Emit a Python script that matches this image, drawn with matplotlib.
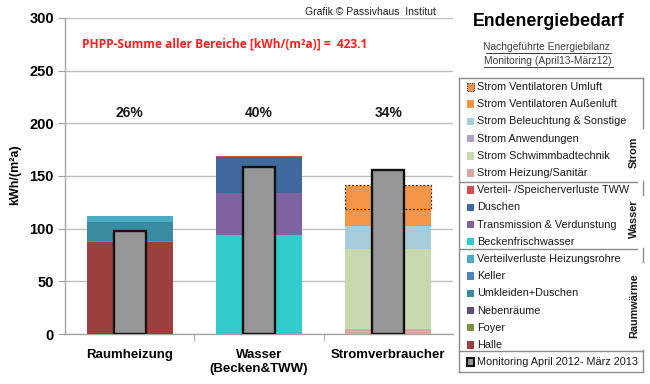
import matplotlib
matplotlib.use("Agg")
import matplotlib.pyplot as plt
from matplotlib.patches import Rectangle
from matplotlib.lines import Line2D
import numpy as np

plt.rcParams['font.family'] = ['Liberation Sans', 'DejaVu Sans']

# ---------------- data ----------------
categories = ["Raumheizung", "Wasser\n(Becken&TWW)", "Stromverbraucher"]

# stacked series, bottom to top (values per category)
halle            = [87.5, 0.0, 0.0]
foyer            = [0.8, 0.0, 0.0]
nebenraeume      = [0.3, 0.0, 0.0]
umkleiden        = [17.8, 0.0, 0.0]
keller           = [0.2, 0.0, 0.0]
verteil_heizung  = [5.2, 0.0, 0.0]
beckenfrisch     = [0.0, 94.3, 0.0]
transmission     = [0.0, 39.6, 0.0]
duschen          = [0.0, 34.1, 0.0]
verteil_tww      = [0.0, 1.3, 0.0]
strom_heizung    = [0.0, 0.0, 4.7]
strom_schwimm    = [0.0, 0.0, 76.0]
strom_anwend     = [0.0, 0.0, 0.0]
strom_beleucht   = [0.0, 0.0, 21.6]
strom_aussen     = [0.0, 0.0, 16.7]
strom_umluft     = [0.0, 0.0, 22.5]

monitoring = [97.5, 158.3, 155.5]
percent_labels = ["26%", "40%", "34%"]
phpp_total = "423.1"

y_ticks = [0, 50, 100, 150, 200, 250, 300]

series = [
    ("Halle", halle, "#9B403D", None),
    ("Foyer", foyer, "#77933C", None),
    ("Nebenräume", nebenraeume, "#604A7B", None),
    ("Umkleiden+Duschen", umkleiden, "#3A8BA2", None),
    ("Keller", keller, "#4F81BD", None),
    ("Verteilverluste Heizungsrohre", verteil_heizung, "#4BACC6", None),
    ("Beckenfrischwasser", beckenfrisch, "#33CCCC", None),
    ("Transmission & Verdunstung", transmission, "#8064A2", None),
    ("Duschen", duschen, "#3F699D", None),
    ("Verteil- /Speicherverluste TWW", verteil_tww, "#D05050", None),
    ("Strom Heizung/Sanitär", strom_heizung, "#DBA5A4", None),
    ("Strom Schwimmbadtechnik", strom_schwimm, "#C8D8AF", None),
    ("Strom Anwendungen", strom_anwend, "#B3A2C7", None),
    ("Strom Beleuchtung & Sonstige", strom_beleucht, "#A7CCDA", None),
    ("Strom Ventilatoren Außenluft", strom_aussen, "#F79646", None),
    ("Strom Ventilatoren Umluft", strom_umluft, "#F79646", "dotted"),
]

W, H = 650, 384
fig = plt.figure(figsize=(W / 100, H / 100), dpi=100)

def fx(px):
    return px / W

def fy(py):
    return 1 - py / H

ax = fig.add_axes([fx(65), fy(334), (453 - 65) / W, (334 - 18) / H])

x = np.arange(len(categories))
bottom = np.zeros(len(categories))
for name, vals, col, ls in series:
    vals = np.array(vals, dtype=float)
    m = vals > 0
    if m.any():
        if ls:
            ax.bar(x[m], vals[m], 0.665, bottom=bottom[m], color=col, edgecolor="#333333",
                   linestyle=(0, (1.5, 1.5)), linewidth=0.9, zorder=3)
        else:
            ax.bar(x[m], vals[m], 0.665, bottom=bottom[m], color=col, linewidth=0, zorder=3)
    bottom += vals

ax.bar(x, monitoring, 0.25, color="#969696", edgecolor="#111111", linewidth=1.7, zorder=4)

for xi, lab in zip(x, percent_labels):
    ax.text(xi, 210, lab, ha="center", va="center", fontsize=10, fontweight="bold", color="#1a1a1a")

ax.set_xlim(-0.5, 2.5)
ax.set_ylim(0, 300)
ax.set_yticks(y_ticks)
ax.set_yticklabels([str(v) for v in y_ticks], fontsize=10.5, fontweight="bold")
ax.yaxis.grid(True, color="#BEBEBE", linewidth=1)
ax.set_axisbelow(True)
ax.set_xticks(x)
ax.set_xticklabels(categories, fontsize=9.5, fontweight="bold")
ax.set_xticks([0.5, 1.5], minor=True)
ax.tick_params(axis="x", which="major", length=0, pad=11)
ax.tick_params(axis="x", which="minor", length=5, color="#A0A0A0", direction="out")
ax.tick_params(axis="y", length=5, color="#A0A0A0", pad=3)
for s in ["top", "right"]:
    ax.spines[s].set_visible(False)
for s in ["left", "bottom"]:
    ax.spines[s].set_color("#A6A6A6")
    ax.spines[s].set_linewidth(1)

fig.text(fx(15), fy(175), "kWh/(m²a)", rotation=90, ha="center", va="center",
         fontsize=9, fontweight="bold")

fig.text(fx(82), fy(44), "PHPP-Summe aller Bereiche [kWh/(m²a)] =  " + phpp_total,
         ha="left", va="center", fontsize=8.6, fontweight="bold", color="#FF2020",
         family=["Open Sans", "DejaVu Sans"])

fig.text(fx(305), fy(12), "Grafik © Passivhaus  Institut", ha="left", va="center",
         fontsize=7.5, color="#222222")

# title block
fig.text(fx(549), fy(22), "Endenergiebedarf", ha="center", va="center",
         fontsize=12.8, fontweight="bold")
for ty, t in [(47, "Nachgeführte Energiebilanz "), (61, "Monitoring (April13-März12)")]:
    fig.text(fx(548), fy(ty), t, ha="center", va="center", fontsize=7.4, color="#404040")

ov = fig.add_axes([0, 0, 1, 1], zorder=10)
ov.set_xlim(0, W)
ov.set_ylim(H, 0)
ov.axis("off")
ov.add_line(Line2D([486, 611], [53, 53], color="#404040", lw=0.7))
ov.add_line(Line2D([484, 613], [67, 67], color="#404040", lw=0.7))

# legend (manual)
bc = "#8C8C8C"
ov.add_line(Line2D([459, 643], [78, 78], color=bc, lw=1))
ov.add_line(Line2D([459, 459], [78, 372], color=bc, lw=1))
ov.add_line(Line2D([459, 643], [372, 372], color=bc, lw=1))
for y0, y1 in [(78, 128), (181, 195), (248, 262), (350, 372)]:
    ov.add_line(Line2D([643, 643], [y0, y1], color=bc, lw=1))
ov.add_line(Line2D([459, 637], [181.5, 181.5], color=bc, lw=1))
ov.add_line(Line2D([459, 637], [249, 249], color=bc, lw=1))
ov.add_line(Line2D([459, 643], [351, 351], color=bc, lw=1))

legend_order = list(reversed(series))
row_y = [87 + 17.2 * i for i in range(17)]
for i, (name, vals, col, ls) in enumerate(legend_order):
    y = row_y[i]
    if ls:
        ov.add_patch(Rectangle((466.5, y - 3.8), 7.5, 7.5, facecolor=col, edgecolor="#333333",
                               linestyle=(0, (1, 1)), linewidth=0.8))
    else:
        ov.add_patch(Rectangle((466.5, y - 3.8), 7.5, 7.5, facecolor=col, linewidth=0))
    ov.text(477, y, name, ha="left", va="center", fontsize=7.8, color="#1a1a1a")
y = row_y[16]
ov.add_patch(Rectangle((466.5, y - 3.8), 7.5, 7.5, facecolor="#969696", edgecolor="#111111", linewidth=1.5))
ov.text(477, y, "Monitoring April 2012- März 2013", ha="left", va="center", fontsize=7.8, color="#1a1a1a")

for lab, yc in [("Strom", 152), ("Wasser", 219), ("Raumwärme", 306)]:
    ov.text(634, yc, lab, rotation=90, ha="center", va="center", fontsize=7.8,
            fontweight="bold", color="#1a1a1a")

fig.savefig("out.png", dpi=100)
